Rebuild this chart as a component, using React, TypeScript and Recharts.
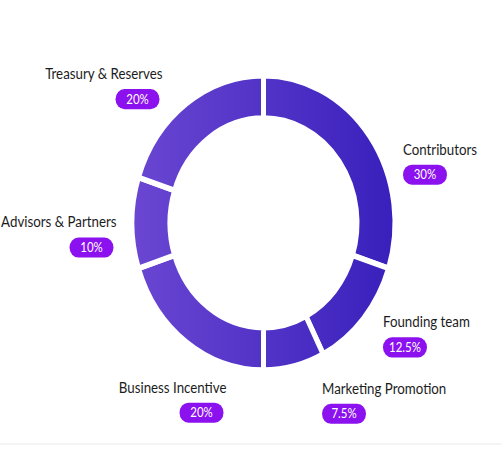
import { PieChart, Pie, Cell } from "recharts"

const categories = [
  "Contributors",
  "Founding team",
  "Marketing Promotion",
  "Business Incentive",
  "Advisors & Partners",
  "Treasury & Reserves",
]
const shares = [30, 12.5, 7.5, 20, 10, 20]

// hand tuned nudges so the labels sit where the original puts them
const labelNudgeX = [6, -6, 20, 60, 18, -4]
const labelNudgeY = [36, -14, -8, 18, 4, 5]

const data = categories.map((name, i) => ({ name, value: shares[i] }))

const LABEL_R = 165
const PILL_W = 44
const PILL_H = 18
const FONT = "Lato, 'Open Sans', sans-serif"

const renderLabel = (props: any) => {
  const { cx, cy, midAngle, index, name, value } = props
  const rad = Math.PI / 180
  const cos = Math.cos(-midAngle * rad)
  const sin = Math.sin(-midAngle * rad)
  const x = cx + LABEL_R * cos + labelNudgeX[index]
  const y = cy + LABEL_R * sin + labelNudgeY[index]
  const right = cos >= 0
  const pillX = right ? x : x - 3 - PILL_W
  const pillY = y + 9
  return (
    <g key={`lbl-${index}`}>
      <text
        x={x}
        y={y}
        textAnchor={right ? "start" : "end"}
        fontFamily={FONT}
        fontSize={13.3}
        fill="#1c1c1c"
      >
        {name}
      </text>
      <rect x={pillX} y={pillY} width={PILL_W} height={PILL_H} rx={9} fill="#8b12ee" />
      <text
        x={pillX + PILL_W / 2}
        y={pillY + 13}
        textAnchor="middle"
        fontFamily={FONT}
        fontSize={11.5}
        fill="#ffffff"
      >
        {value}%
      </text>
    </g>
  )
}

export default function App() {
  return (
    <div style={{ position: "absolute", left: 0, top: 0, width: 501, height: 471, background: "#fff", overflow: "hidden" }}>
      <div style={{ transform: "scaleY(1.12)", transformOrigin: "0 0", width: 501, height: 420 }}>
        <PieChart width={501} height={420} margin={{ top: 0, right: 0, bottom: 0, left: 0 }}>
          <defs>
            <linearGradient id="ringGrad" gradientUnits="userSpaceOnUse" x1={135} y1={0} x2={393} y2={0}>
              <stop offset="0%" stopColor="#6a46d2" />
              <stop offset="100%" stopColor="#3920bc" />
            </linearGradient>
          </defs>
          <Pie
            data={data}
            dataKey="value"
            nameKey="name"
            cx={263.5}
            cy={199}
            innerRadius={93.5}
            outerRadius={131.5}
            startAngle={90}
            endAngle={-270}
            stroke="#ffffff"
            strokeWidth={5}
            label={renderLabel}
            labelLine={false}
            isAnimationActive={false}
          >
            {data.map((d) => (
              <Cell key={d.name} fill="url(#ringGrad)" />
            ))}
          </Pie>
        </PieChart>
      </div>
      <div style={{ position: "absolute", left: 0, top: 443, width: 501, height: 2, background: "#f4f4f4" }} />
    </div>
  )
}
